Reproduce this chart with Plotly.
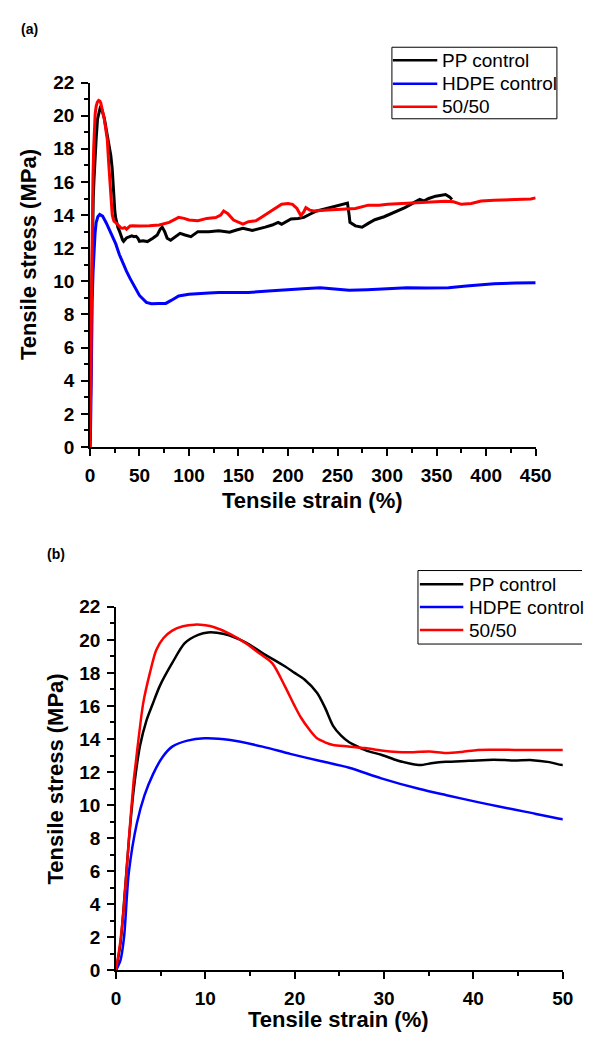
import plotly.graph_objects as go

# ---- Tensile test curves: strain (%) and stress (MPa) ----
series_names = ["PP control", "HDPE control", "50/50"]
series_colors = ["#000000", "#0000FF", "#FF0000"]

pp_strain = [0, 0.5, 1.0, 1.5, 2.0, 2.7, 3.4, 4.1, 4.9, 6.3, 7.7, 9.2, 10.3, 12.1,
             14.5, 16.4, 18.9, 20.0, 21.1, 22.5, 23.4, 24.3, 25.2, 26.1, 27.2, 28.3,
             29.7, 31.5, 33.0, 34.0, 35.5, 36.9, 39.5, 42.3, 44.5, 46.6, 48.5, 50.0,
             53.6, 58, 63.5, 68, 71, 73, 75.5, 78, 81.5, 85, 91, 96, 102, 109, 120,
             130, 141, 148, 154.5, 164, 170, 177, 184, 190, 193.5, 197, 203, 210,
             216, 222, 229, 236, 242, 250, 257, 260, 261.7, 262.5, 268, 274.7, 281,
             287.6, 297, 307, 318, 327, 333, 337, 342, 349, 355, 359, 363, 365.5]
pp_stress = [0, 1.6, 4.8, 8.2, 11.0, 13.6, 15.1, 16.1, 17.2, 18.6, 19.8, 20.3, 20.45,
             20.35, 19.85, 19.2, 18.4, 18.0, 17.6, 16.8, 15.9, 14.8, 14.2, 13.8, 13.5,
             13.25, 13.05, 12.7, 12.5, 12.42, 12.55, 12.62, 12.68, 12.75, 12.7, 12.72,
             12.6, 12.42,
             12.45, 12.4, 12.6, 12.8, 13.15, 13.27, 13.0, 12.6, 12.48, 12.65, 12.9,
             12.8, 12.7, 13.0, 13.0, 13.05, 12.97, 13.1, 13.2, 13.07, 13.15, 13.27,
             13.4, 13.56, 13.45, 13.56, 13.76, 13.8, 13.86, 14.05, 14.25, 14.35,
             14.45, 14.6, 14.7, 14.72, 14.0, 13.56, 13.35, 13.27, 13.5, 13.72, 13.9,
             14.15, 14.45, 14.75, 14.94, 14.85, 15.0, 15.14, 15.22, 15.24, 15.1, 14.94]

hdpe_strain = [0, 0.5, 0.9, 1.44, 2.34, 3.2, 4.14, 5.2, 6.3, 8.0, 9.9, 12.8, 16.4,
               19.5, 23, 26.1, 29.7, 34.0, 37, 40.5, 43, 45.9, 50,
               57, 62, 70, 76.6, 82, 89.6, 100, 109, 120, 130, 141.5, 160, 180, 200,
               215, 232.5, 250, 261.7, 280, 300, 320, 340, 362, 380, 395, 408, 430,
               450]
hdpe_stress = [0, 0.6, 1.98, 5.93, 8.9, 10.6, 11.86, 12.9, 13.54, 13.9, 14.04, 13.94,
               13.54, 13.1, 12.65, 12.26, 11.62, 10.97, 10.6, 10.18, 9.9, 9.59, 9.15,
               8.73, 8.65, 8.66, 8.67, 8.85, 9.12, 9.22, 9.27, 9.3, 9.33, 9.32, 9.33,
               9.42, 9.52, 9.55, 9.62, 9.5, 9.46, 9.5, 9.55, 9.62, 9.6, 9.62, 9.72,
               9.8, 9.86, 9.9, 9.92]

blend_strain = [0, 0.5, 0.9, 1.44, 1.98, 2.16, 3.06, 3.8, 4.5, 5.3, 6.3, 7.5, 8.8,
                10.0, 11.0, 12.8, 14.6, 16.0, 17.5, 18.9, 20.0, 20.7, 21.6, 22.5, 23.4,
                24.3, 26, 27.9, 29.7, 31.5, 33.3, 35.1, 36.9, 38.7, 40.5, 43, 46, 50,
                60, 70, 80, 85, 89.6, 95, 100, 109, 118, 127, 132, 135, 139, 145, 150,
                154.5, 160, 167.5, 174, 180.5, 187, 193.5, 200, 204.5, 209, 213, 216,
                218, 222, 226, 240, 255, 268, 281, 292, 300.6, 315, 330, 345, 359, 367,
                375, 385, 395, 408, 424, 435, 445, 450]
blend_stress = [0, 1.8, 3.96, 7.9, 11.47, 12.3, 16.2, 18.0, 19.37, 20.1, 20.56, 20.82,
                20.92, 20.88, 20.76, 20.35, 19.77, 19.2, 18.58, 17.2, 16.0, 15.3, 14.6,
                14.04, 13.8, 13.64, 13.55, 13.45, 13.3, 13.21, 13.2, 13.25, 13.15, 13.22,
                13.34, 13.35, 13.33, 13.34,
                13.36, 13.4, 13.56, 13.7, 13.86, 13.8, 13.7, 13.66, 13.8, 13.85, 14.0,
                14.25, 14.1, 13.7, 13.55, 13.46, 13.6, 13.66, 13.9, 14.15, 14.45, 14.65,
                14.7, 14.65, 14.4, 13.96, 14.2, 14.45, 14.3, 14.25, 14.3, 14.35, 14.4,
                14.6, 14.6, 14.65, 14.7, 14.75, 14.8, 14.84, 14.8, 14.65, 14.7, 14.85,
                14.9, 14.94, 14.95, 14.97, 15.04]

strains = [pp_strain, hdpe_strain, blend_strain]
stresses = [pp_stress, hdpe_stress, blend_stress]

y_ticks = list(range(0, 23, 2))
x_ticks_a = list(range(0, 451, 50))
x_ticks_b = list(range(0, 51, 10))

W, H = 598, 1048
FONT = "Liberation Sans"


def px_x(p):
    """Pixel column -> paper x (clamped so nothing spills past the page)."""
    return min(max(p / W, 0.0), 1.0)


def px_y(p):
    """Pixel row -> paper y."""
    return min(max(1 - p / H, 0.0), 1.0)


fig = go.Figure()

# Panel (a): full strain range; panel (b): first 50 % strain
for name, color, xs, ys in zip(series_names, series_colors, strains, stresses):
    fig.add_trace(go.Scatter(x=xs, y=ys, mode="lines", name=name,
                             line=dict(color=color, width=3),
                             xaxis="x", yaxis="y", showlegend=False))
for name, color, xs, ys in zip(series_names, series_colors, strains, stresses):
    fig.add_trace(go.Scatter(x=xs, y=ys, mode="lines", name=name,
                             line=dict(color=color, width=2.5, shape="spline",
                                       smoothing=0.8),
                             xaxis="x2", yaxis="y2", showlegend=False))

tick_font = dict(family=FONT, size=19, color="black", weight="bold")


def axis(domain, rng, tickvals, minor_dtick, anchor):
    return dict(domain=domain, range=rng, anchor=anchor,
                tickmode="array", tickvals=tickvals,
                ticktext=[f"<b>{v}</b>" for v in tickvals],
                ticks="outside", ticklen=7, tickwidth=1.5, tickcolor="black",
                minor=dict(dtick=minor_dtick, ticks="outside", ticklen=4,
                           tickwidth=1.5, tickcolor="black"),
                showline=True, linecolor="black", linewidth=1.5,
                showgrid=False, zeroline=False, tickfont=tick_font,
                ticklabelstandoff=3, fixedrange=True)


fig.update_layout(
    width=W, height=H, margin=dict(l=0, r=0, t=0, b=0),
    paper_bgcolor="white", plot_bgcolor="white",
    xaxis=axis([px_x(88), px_x(550)], [0, 450], x_ticks_a, 25, "y"),
    yaxis=axis([px_y(446), px_y(74)], [0, 22], y_ticks, 1, "x"),
    xaxis2=axis([px_x(115), px_x(578)], [0, 50], x_ticks_b, 5, "y2"),
    yaxis2=axis([px_y(980), px_y(609)], [0, 22], y_ticks, 1, "x2"),
    showlegend=False,
)

# Legends: frame edges, line swatch and label per series.
# The panel (b) frame runs off the page, so its right edge is left open.
legend_font = dict(family=FONT, size=19, color="black")
legend_boxes = [
    dict(x0=401, x1=572, y0=38, y1=111, right=True, line_x0=402, line_x1=448,
         text_x=451, rows=[51.3, 75.3, 98.7]),
    dict(x0=428, x1=598, y0=572, y1=647, right=False, line_x0=430, line_x1=475,
         text_x=479, rows=[586, 609.3, 632.7]),
]
frame = dict(color="black", width=1)
for box in legend_boxes:
    edges = [((box["x0"], box["y0"]), (box["x1"], box["y0"])),
             ((box["x0"], box["y1"]), (box["x1"], box["y1"])),
             ((box["x0"], box["y0"]), (box["x0"], box["y1"]))]
    if box["right"]:
        edges.append(((box["x1"], box["y0"]), (box["x1"], box["y1"])))
    for (ax, ay), (bx, by) in edges:
        fig.add_shape(type="line", xref="paper", yref="paper",
                      x0=px_x(ax), y0=px_y(ay), x1=px_x(bx), y1=px_y(by),
                      line=frame)
    for name, color, row in zip(series_names, series_colors, box["rows"]):
        fig.add_shape(type="line", xref="paper", yref="paper",
                      x0=px_x(box["line_x0"]), x1=px_x(box["line_x1"]),
                      y0=px_y(row), y1=px_y(row),
                      line=dict(color=color, width=2.5))
        fig.add_annotation(xref="paper", yref="paper", showarrow=False,
                           text=name, x=px_x(box["text_x"]), y=px_y(row),
                           xanchor="left", yanchor="middle", font=legend_font)

title_font = dict(family=FONT, size=22, color="black", weight="bold")
label_font = dict(family=FONT, size=14, color="black", weight="bold")
annotations = [
    dict(text="<b>Tensile stress (MPa)</b>", x=px_x(25), y=px_y(250), textangle=-90,
         font=title_font),
    dict(text="<b>Tensile strain (%)</b>", x=px_x(319), y=px_y(501), font=title_font),
    dict(text="<b>Tensile stress (MPa)</b>", x=px_x(52), y=px_y(785), textangle=-90,
         font=title_font),
    dict(text="<b>Tensile strain (%)</b>", x=px_x(346), y=px_y(1030), font=title_font),
    dict(text="<b>(a)</b>", x=px_x(25), y=px_y(19), font=label_font),
    dict(text="<b>(b)</b>", x=px_x(53), y=px_y(555), font=label_font),
]
for a in annotations:
    fig.add_annotation(xref="paper", yref="paper", showarrow=False,
                       xanchor="center", yanchor="middle", **a)

fig.write_html("out.html",
               post_script="document.body.style.margin='0';"
                           "document.body.style.overflow='hidden';")
